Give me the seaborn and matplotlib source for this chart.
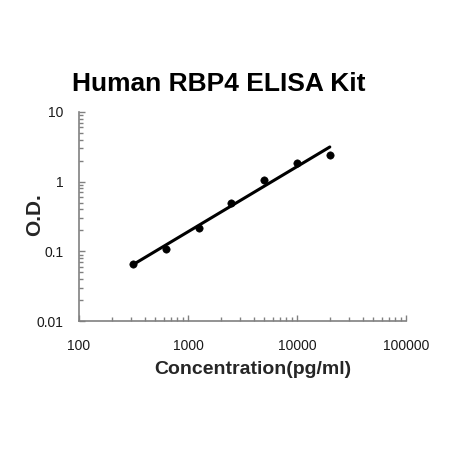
import numpy as np
import pandas as pd
import matplotlib
matplotlib.use("Agg")
import matplotlib.pyplot as plt
import seaborn as sns
from matplotlib.ticker import LogLocator, NullFormatter, FixedLocator, FixedFormatter

# standard curve readings
concentration = [312.5, 625, 1250, 2500, 5000, 10000, 20000]
od = [0.066, 0.108, 0.217, 0.49, 1.07, 1.88, 2.45]

x_ticks = [100, 1000, 10000, 100000]
x_labels = ["100", "1000", "10000", "100000"]
y_ticks = [0.01, 0.1, 1, 10]
y_labels = ["0.01", "0.1", "1", "10"]

sns.set_style("ticks")
plt.rcParams['font.family'] = ['Liberation Sans', 'DejaVu Sans']

data = pd.DataFrame({'conc': concentration, 'od': od})

# power fit in log-log space
k, b = np.polyfit(np.log10(data['conc']), np.log10(data['od']), 1)
fit = pd.DataFrame({'conc': [concentration[0], concentration[-1]]})
fit['od'] = 10 ** (k * np.log10(fit['conc']) + b)

fig = plt.figure(figsize=(4.5, 4.51), dpi=100)
ax = fig.add_axes([0.1756, 0.2882, 0.7266, 0.4635])

sns.lineplot(data=fit, x='conc', y='od', ax=ax, color='black', linewidth=2.2)
sns.scatterplot(data=data, x='conc', y='od', ax=ax, color='black', s=28, edgecolor='black', zorder=3)

ax.set_xscale('log')
ax.set_yscale('log')
ax.set_xlim(100, 100000)
ax.set_ylim(0.01, 10)

ax.xaxis.set_major_locator(FixedLocator(x_ticks))
ax.xaxis.set_major_formatter(FixedFormatter(x_labels))
ax.yaxis.set_major_locator(FixedLocator(y_ticks))
ax.yaxis.set_major_formatter(FixedFormatter(y_labels))
ax.xaxis.set_minor_locator(LogLocator(base=10, subs=np.arange(2, 10)))
ax.yaxis.set_minor_locator(LogLocator(base=10, subs=np.arange(2, 10)))
ax.xaxis.set_minor_formatter(NullFormatter())
ax.yaxis.set_minor_formatter(NullFormatter())

for s in ['top', 'right']:
    ax.spines[s].set_visible(False)
for s in ['left', 'bottom']:
    ax.spines[s].set_color('#808080')
    ax.spines[s].set_linewidth(1.2)

ax.tick_params(axis='both', which='major', direction='in', length=4, width=1, color='#808080',
               labelsize=10, labelcolor='#1a1a1a')
ax.tick_params(axis='both', which='minor', direction='in', length=3, width=1, color='#808080')
ax.tick_params(axis='x', which='major', pad=13)
ax.tick_params(axis='y', which='major', pad=11)

ax.set_xlabel("Concentration(pg/ml)", fontsize=14, fontweight='bold', va='center')
ax.xaxis.set_label_coords(0.532, -0.234)
ax.set_ylabel("O.D.", fontsize=15, fontweight='bold', va='center')
ax.yaxis.set_label_coords(-0.135, 0.507)
fig.text(0.487, 0.813, "Human RBP4 ELISA Kit", fontsize=19, fontweight='bold',
         ha='center', va='center', color='black')

fig.savefig("out.png", dpi=100)
